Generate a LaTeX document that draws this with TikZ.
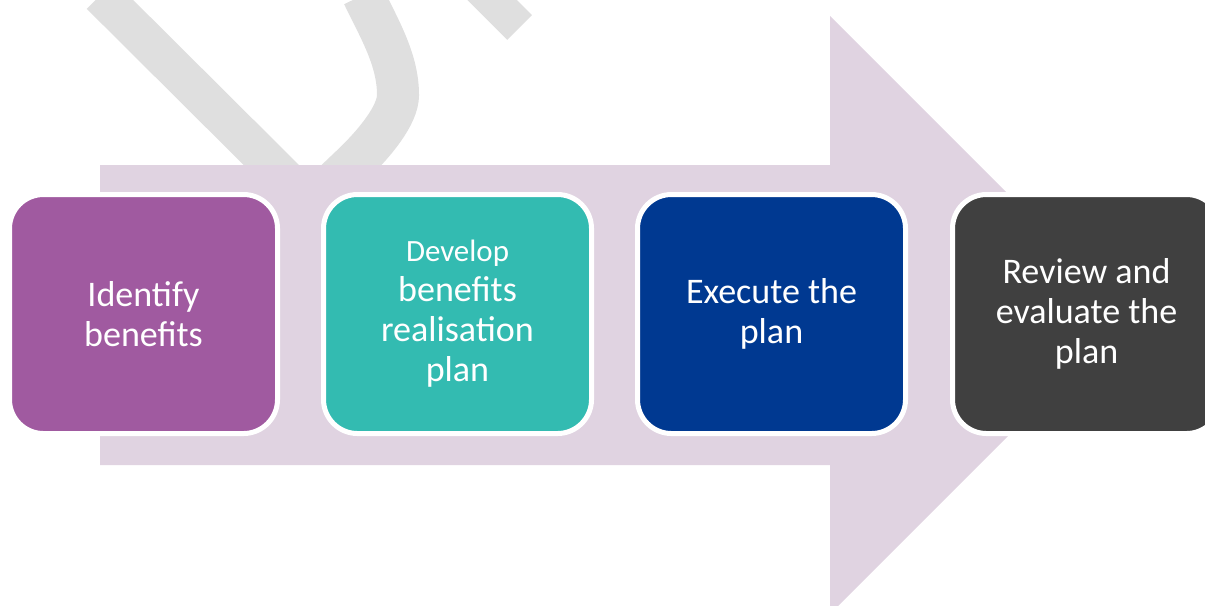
\documentclass[tikz,border=0pt]{standalone}
\usepackage{fontspec}
\setmainfont{Carlito}
\pgfdeclarelayer{edgelayer}
\pgfdeclarelayer{nodelayer}
\pgfsetlayers{edgelayer,nodelayer,main}
\definecolor{arrowmauve}{RGB}{224,211,225}
\definecolor{markgrey}{RGB}{223,223,223}
\definecolor{stagepurple}{RGB}{160,90,160}
\definecolor{stageteal}{RGB}{51,187,177}
\definecolor{stageblue}{RGB}{0,57,145}
\definecolor{stagegrey}{RGB}{64,64,64}
\tikzstyle{stage}=[rectangle,rounded corners=0.34cm,draw=white,line width=0.05cm,minimum width=2.68cm,minimum height=2.39cm,inner sep=0pt,align=center,text=white,font=\fontsize{10.25pt}{11.4pt}\selectfont]
\tikzstyle{watermark}=[draw=markgrey,line cap=butt]
\tikzstyle{flow}=[fill=arrowmauve,draw=none]

\begin{document}
\begin{tikzpicture}
	\useasboundingbox (0,0) rectangle (12.05,6.05);
	\begin{pgfonlayer}{edgelayer}
		% grey strokes behind the arrow
		\draw [style=watermark, line width=0.39cm] (1.005, 6.10) -- (3.065, 4.05);
		\draw [style=watermark, line width=0.42cm] (3.63, 6.10) .. controls (3.80, 5.75) and (3.98, 5.45) .. (3.98, 5.10) .. controls (3.98, 4.90) and (3.75, 4.62) .. (3.52, 4.40) -- (3.10, 4.00);
		\draw [style=watermark, line width=0.35cm] (4.795, 6.175) -- (5.195, 5.775);
		% big arrow
		\fill [style=flow] (1.00, 4.40) -- (8.30, 4.40) -- (8.30, 5.89) -- (11.29, 2.90) -- (8.30, -0.09) -- (8.30, 1.40) -- (1.00, 1.40) -- cycle;
	\end{pgfonlayer}
	\begin{pgfonlayer}{nodelayer}
		\node [style=stage, fill=stagepurple] (identify) at (1.435, 2.91) {Identify\\benefits};
		\node [style=stage, fill=stageteal] (develop) at (4.575, 2.91) {{\fontsize{8.8pt}{11pt}\selectfont Develop}\\benefits\\realisation\\plan};
		\node [style=stage, fill=stageblue] (execute) at (7.715, 2.91) {Execute the\\plan};
		\node [style=stage, fill=stagegrey] (review) at (10.865, 2.91) {Review and\\evaluate the\\plan};
	\end{pgfonlayer}
\end{tikzpicture}
\end{document}
